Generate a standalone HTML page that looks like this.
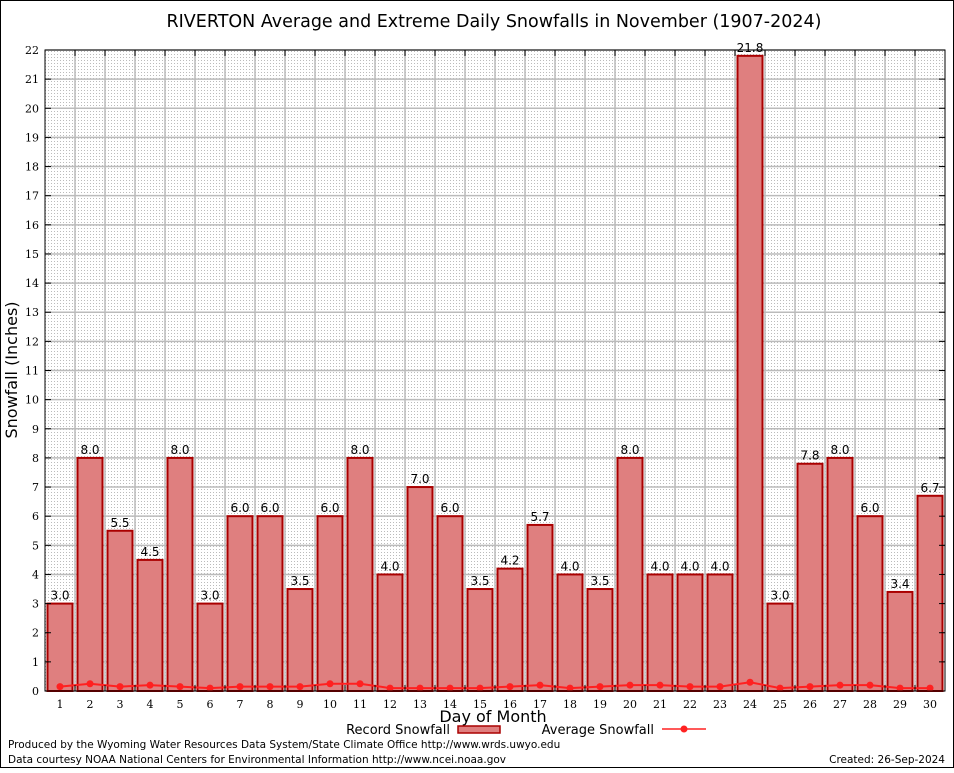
<!DOCTYPE html>
<html><head><meta charset="utf-8"><style>
body{margin:0;background:#fff;}
svg text{font-family:"DejaVu Sans","Liberation Sans",sans-serif;}
.serif{font-family:"DejaVu Serif","Liberation Serif",serif;}
</style></head><body>
<svg id="chart" width="954" height="768" viewBox="0 0 954 768" xmlns="http://www.w3.org/2000/svg">
<defs>
<pattern id="dots" width="3" height="3" patternUnits="userSpaceOnUse"><rect width="3" height="3" fill="#fff"/><rect width="1" height="1" fill="#bbb"/></pattern>
</defs>
<rect x="0.5" y="0.5" width="953" height="767" fill="#fff" stroke="#000"/>
<text x="494" y="27" font-size="17.5" text-anchor="middle">RIVERTON Average and Extreme Daily Snowfalls in November (1907-2024)</text>
<rect x="45" y="50" width="900" height="641" fill="url(#dots)"/>
<g id="grid"></g>
<g id="bars"></g>
<g id="avg"></g>
<g id="axes"></g>
<text transform="translate(17,370) rotate(-90)" font-size="16" text-anchor="middle">Snowfall (Inches)</text>
<text x="493" y="722" font-size="16" text-anchor="middle">Day of Month</text>
<g><text x="450" y="734" font-size="13" text-anchor="end">Record Snowfall</text><rect x="458" y="726" width="42" height="7" fill="#df7f7f" stroke="#a00" stroke-width="1.5"/></g>
<g><text x="654" y="734" font-size="13" text-anchor="end">Average Snowfall</text><line x1="662" y1="729" x2="706" y2="729" stroke="#f22" stroke-width="1.5"/><circle cx="684" cy="729" r="3.5" fill="#f22"/></g>
<text x="8" y="748" font-size="10.5">Produced by the Wyoming Water Resources Data System/State Climate Office http://www.wrds.uwyo.edu</text>
<text x="8" y="763" font-size="10.5">Data courtesy NOAA National Centers for Environmental Information http://www.ncei.noaa.gov</text>
<text x="945" y="763" font-size="10.5" text-anchor="end">Created:  26-Sep-2024</text>
</svg>
<script>
const days=[1,2,3,4,5,6,7,8,9,10,11,12,13,14,15,16,17,18,19,20,21,22,23,24,25,26,27,28,29,30];
const records=[3.0,8.0,5.5,4.5,8.0,3.0,6.0,6.0,3.5,6.0,8.0,4.0,7.0,6.0,3.5,4.2,5.7,4.0,3.5,8.0,4.0,4.0,4.0,21.8,3.0,7.8,8.0,6.0,3.4,6.7];
const averages=[0.15,0.25,0.15,0.2,0.15,0.1,0.15,0.15,0.15,0.25,0.25,0.1,0.1,0.1,0.1,0.15,0.2,0.1,0.15,0.2,0.2,0.15,0.15,0.3,0.1,0.15,0.2,0.2,0.1,0.1];
const yTicks=[0,1,2,3,4,5,6,7,8,9,10,11,12,13,14,15,16,17,18,19,20,21,22];
const NS="http://www.w3.org/2000/svg";
const L=45,R=945,T=50,B=691,YMAX=22;
const xs=d=>L+(d-0.5)*(R-L)/days.length;
const ys=v=>B-v*(B-T)/YMAX;
function mk(p,tag,at){const e=document.createElementNS(NS,tag);for(const k in at)e.setAttribute(k,at[k]);document.getElementById(p).appendChild(e);return e;}
yTicks.forEach(t=>{
 const g=mk('grid','line',{x1:L,x2:R,y1:ys(t),y2:ys(t),stroke:'#bbb','stroke-width':1.5});
 
 
 const tx=mk('axes','text',{x:L-6,y:ys(t)+4,'font-size':11,'text-anchor':'end',class:'serif'});
 tx.textContent=t;
 
 
 mk('axes','line',{x1:L,x2:L+6,y1:ys(t),y2:ys(t),stroke:'#000'});
 mk('axes','line',{x1:R,x2:R-6,y1:ys(t),y2:ys(t),stroke:'#000'});
});
for(let k=1;k<days.length;k++){const x=L+k*(R-L)/days.length;
 const g=mk('grid','line',{x1:x,x2:x,y1:T,y2:B,stroke:'#bbb','stroke-width':1.5});
 
 
 mk('axes','line',{x1:x,x2:x,y1:T,y2:T+6,stroke:'#000'});
 mk('axes','line',{x1:x,x2:x,y1:B,y2:B-6,stroke:'#000'});}
const bw=(R-L)/days.length-5;
days.forEach((d,i)=>{
 const r=mk('bars','rect',{x:xs(d)-bw/2,y:ys(records[i]),width:bw,height:B-ys(records[i]),fill:'#df7f7f',stroke:'#a00','stroke-width':2});
 
 
 const lb=mk('bars','text',{x:xs(d),y:ys(records[i])-4,'font-size':12,'text-anchor':'middle'});
 lb.textContent=records[i].toFixed(1);
 
 
 const tx=mk('axes','text',{x:xs(d),y:B+17,'font-size':11,'text-anchor':'middle',class:'serif'});
 tx.textContent=d;
 
 
});
const pl=mk('avg','polyline',{points:days.map((d,i)=>xs(d)+','+ys(averages[i])).join(' '),fill:'none',stroke:'#ff2020','stroke-width':2});


days.forEach((d,i)=>{const c=mk('avg','circle',{cx:xs(d),cy:ys(averages[i]),r:3.5,fill:'#ff2020'});
 
 });
const fr=mk('axes','rect',{x:L,y:T,width:R-L,height:B-T,fill:'none',stroke:'#000','stroke-width':1});


</script>
</body></html>
